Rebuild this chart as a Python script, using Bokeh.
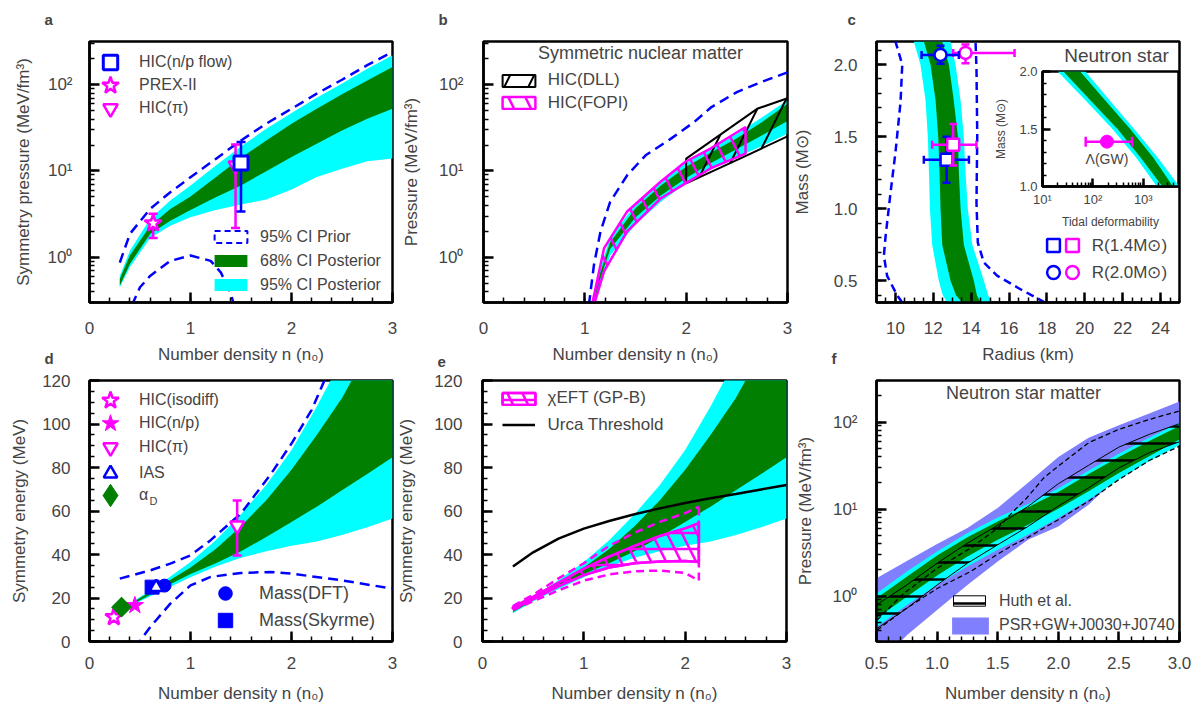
import numpy as np
from bokeh.plotting import figure
from bokeh.models import (GridBox, Range1d, Label, Legend, LegendItem,
                          CustomJSTickFormatter, SingleIntervalTicker, PrintfTickFormatter)
from bokeh.embed import file_html
from bokeh.resources import INLINE

FONT = "Liberation Sans"
CYAN = "#00ffff"
GREEN = "#007f00"
BLUE = "#0000ff"
MAG = "#ff00ff"
PSR = "#8080ff"
BLACK = "#000000"

# ------------------------------------------------------------------ data
# (a) symmetry pressure
a_n = [0.3, 0.4, 0.6, 0.8, 1.0, 1.25, 1.5, 1.75, 2.0, 2.25, 2.5, 2.75, 3.0]
a_post95_lo = [0.45, 0.77, 1.68, 2.33, 2.91, 3.54, 4.08, 4.67, 6.1, 8.5, 10.6, 13.0, 14.0]
a_post68_lo = [0.47, 0.84, 1.87, 2.66, 3.54, 4.97, 6.79, 9.96, 14.5, 20.7, 29.5, 40.3, 52.6]
a_post68_hi = [0.56, 1.05, 2.31, 3.64, 5.06, 8.48, 14.2, 22.6, 35.3, 52.6, 77.3, 112, 160]
a_post95_hi = [0.61, 1.19, 2.79, 4.55, 6.79, 11.6, 19.2, 30.9, 46.9, 70.6, 103, 153, 219]
a_prior_hi = [0.87, 1.87, 3.64, 5.68, 8.48, 13.8, 22.6, 35.3, 52.6, 78.6, 114, 168, 239]
a_prior_lo_n = [0.42, 0.5, 0.6, 0.8, 1.0, 1.2, 1.3, 1.4, 1.43]
a_prior_lo = [0.28, 0.45, 0.61, 0.91, 1.05, 0.91, 0.67, 0.38, 0.28]
a_npflow_n, a_npflow_p, a_npflow_lo, a_npflow_hi = [1.5], [12.4], [3.4], [21.6]
a_prex_n, a_prex_p, a_prex_lo, a_prex_hi = [0.63], [2.48], [1.68], [3.2]
a_pi_n, a_pi_p, a_pi_lo, a_pi_hi = [1.446], [11.6], [2.19], [20.3]

# (b) symmetric nuclear matter pressure
b_n = [1.07, 1.15, 1.25, 1.5, 1.75, 2.0, 2.25, 2.5, 2.75, 3.0]
b_post95_hi = [0.28, 0.75, 1.7, 4.1, 7.6, 12.5, 18.5, 27, 42, 66]
b_post68_hi = [0.26, 0.65, 1.5, 3.7, 6.8, 11.2, 16.5, 24, 37, 60]
b_post68_lo = [0.24, 0.55, 1.25, 2.9, 5.2, 8.3, 12.5, 18, 26, 38]
b_post95_lo = [0.22, 0.45, 1.05, 2.4, 4.4, 7.2, 10.5, 14.5, 19.5, 27]
b_prior_n = [1.04, 1.09, 1.155, 1.25, 1.42, 1.6, 1.85, 2.08, 2.25, 2.5, 2.75, 3.0]
b_prior_hi = [0.28, 0.82, 2.0, 4.4, 9.0, 15.2, 23.7, 37, 55, 82, 108, 139]
b_dll_n_hi, b_dll_hi = [2.0, 2.7, 3.0], [13.9, 52.5, 69.5]
b_dll_n_lo, b_dll_lo = [2.0, 2.6, 3.0], [7.2, 15.2, 25.2]
b_fopi_n_hi = [1.07, 1.19, 1.418, 1.747, 1.993, 2.24, 2.586]
b_fopi_hi = [0.28, 1.28, 3.4, 7.5, 12.8, 18.2, 32.3]
b_fopi_n_lo = [1.09, 1.19, 1.418, 1.747, 1.993, 2.24, 2.586]
b_fopi_lo = [0.28, 0.69, 2.0, 4.8, 7.2, 10.7, 15.9]

# (c) mass-radius
c_M = [0.35, 0.4, 0.5, 0.75, 1.0, 1.25, 1.5, 1.75, 2.0, 2.16]
c_post95_lo = [12.73, 12.5, 12.29, 11.94, 11.82, 11.77, 11.71, 11.59, 11.32, 10.97]
c_post68_lo = [13.53, 13.2, 12.91, 12.47, 12.38, 12.33, 12.26, 12.12, 11.85, 11.5]
c_post68_hi = [14.49, 14.3, 14.14, 13.61, 13.44, 13.35, 13.3, 13.08, 12.82, 12.47]
c_post95_hi = [15.11, 14.9, 14.67, 14.06, 13.82, 13.7, 13.61, 13.44, 13.17, 12.91]
c_prior_lo_M = [0.35, 0.40, 0.535, 0.674, 0.81, 1.11, 1.39, 1.74, 2.0, 2.16]
c_prior_lo_R = [10.36, 10.09, 9.56, 9.39, 9.48, 9.74, 10.0, 10.27, 10.36, 10.0]
c_prior_hi_M = [0.35, 0.40, 0.442, 0.535, 0.627, 0.766, 1.04, 1.507, 1.97, 2.16]
c_prior_hi_R = [17.9, 17.2, 16.6, 15.38, 14.67, 14.35, 14.28, 14.32, 14.28, 14.23]
c_r14_blue = dict(R=[12.70], M=[1.34], R_lo=[11.5], R_hi=[13.88], M_lo=[1.18], M_hi=[1.50])
c_r14_mag = dict(R=[13.05], M=[1.444], R_lo=[11.94], R_hi=[14.28], M_lo=[1.30], M_hi=[1.588])
c_r20_blue = dict(R=[12.38], M=[2.067], R_lo=[11.38], R_hi=[13.35], M_lo=[2.005], M_hi=[2.13])
c_r20_mag = dict(R=[13.7], M=[2.081], R_lo=[13.05], R_hi=[16.29], M_lo=[2.01], M_hi=[2.14])
# inset: mass vs tidal deformability
in_M = [1.0, 1.25, 1.5, 1.75, 2.0]
in_post95_lo = [1860, 724, 245, 71, 20]
in_post68_lo = [2400, 891, 309, 89, 26]
in_post68_hi = [3890, 1585, 550, 174, 56]
in_post95_hi = [5200, 1950, 660, 214, 71]
in_gw_L, in_gw_M, in_gw_lo, in_gw_hi = [190], [1.39], [72], [600]

# (d) symmetry energy
d_n = [0.3, 0.5, 0.7, 1.0, 1.25, 1.5, 1.75, 2.0, 2.25, 2.5, 2.75, 3.0]
d_post95_hi = [14.5, 20.5, 26.5, 36.5, 46.5, 58.5, 72, 88, 108, 130, 155, 182]
d_post68_hi = [14, 20, 25.5, 34, 42.5, 53, 65, 79, 95, 112, 133, 155]
d_post68_lo = [13.5, 19, 24, 31, 36, 41.5, 48, 55, 62, 69.5, 77, 84.7]
d_post95_lo = [13, 18.5, 23, 29.5, 34.5, 38.5, 41.5, 44, 46, 49, 52.5, 56.5]
d_prior_hi_n = [0.3, 0.6, 0.8, 1.0, 1.2, 1.5, 1.8, 2.0, 2.2, 2.4]
d_prior_hi = [28.9, 32.7, 35.8, 39.6, 46.6, 58.9, 77.3, 91, 106.5, 128]
d_prior_lo_n = [0.45, 0.6, 0.8, 1.0, 1.2, 1.5, 1.8, 2.0, 2.5, 3.0]
d_prior_lo = [-3, 6.6, 17.4, 25.8, 29.7, 31.5, 32, 31.2, 28.1, 24.3]
d_isodiff_n, d_isodiff_E = [0.241], [11.2]
d_np_n, d_np_E = [0.449], [16.6]
d_pi_n, d_pi_E, d_pi_lo, d_pi_hi = [1.462], [53.3], [39.5], [64.8]
d_ias_n, d_ias_E = [0.66], [25.0]
d_alpha_n, d_alpha_E = [0.317], [15.8]
d_dft_n, d_dft_E = [0.743], [25.7]
d_sky_n, d_sky_E = [0.62], [25.0]

# (e) chiral EFT and Urca threshold
e_eft_n = [0.3, 0.5, 0.75, 1.0, 1.25, 1.5, 1.75, 2.0, 2.135]
e_eft68_hi = [15.8, 20.5, 27, 33.5, 39, 44, 48.5, 52, 54.4]
e_eft68_lo = [15.0, 19.5, 25.5, 30.5, 34, 36, 36.8, 37, 36.5]
e_eft95_hi = [16.3, 21.5, 29, 36, 44, 50, 55, 59, 62]
e_eft95_lo = [14.5, 18.5, 23.5, 28, 30.8, 32.3, 32.6, 31.5, 28]
e_urca_n = [0.3, 0.5, 0.75, 1.0, 1.25, 1.5, 1.75, 2.0, 2.25, 2.5, 2.75, 3.0]
e_urca = [34.5, 41.0, 47.3, 51.9, 55.4, 58.5, 61.2, 63.7, 65.9, 67.8, 69.9, 72.0]

# (f) neutron star matter pressure
f_n = [0.5, 0.75, 1.0, 1.25, 1.5, 1.75, 2.0, 2.25, 2.5, 2.75, 3.0]
f_post95_hi = [1.07, 1.91, 3.25, 5.29, 8.0, 11.4, 17.2, 27.7, 43.1, 65.9, 98]
f_post68_hi = [0.94, 1.67, 2.92, 4.75, 7.2, 10.5, 15.7, 25.3, 39.5, 60.4, 89.9]
f_post68_lo = [0.55, 0.98, 1.72, 2.84, 4.43, 6.6, 10.1, 16.0, 26.0, 40.5, 63.1]
f_post95_lo = [0.44, 0.79, 1.34, 2.18, 3.4, 5.06, 7.87, 12.8, 21.8, 35.5, 54.3]
f_psr_hi = [1.6, 2.53, 3.95, 6.04, 10.3, 20, 39.5, 65.9, 91.6, 125, 172]
f_psr_lo = [0.15, 0.355, 0.69, 1.34, 2.49, 4.43, 6.31, 11.2, 24, 38, 55]
f_huth_hi = [0.79, 1.34, 2.38, 4.05, 6.5, 10.7, 19.5, 31.8, 51.5, 72.0, 95.8]
f_huth_lo = [0.42, 0.72, 1.34, 2.38, 3.88, 6.3, 10.8, 17.5, 29.7, 44.3, 59.3]
f_dash_n = [0.505, 0.725, 1.0, 1.276, 1.5, 1.63, 1.74, 1.88, 2.0, 2.25, 2.5, 2.75, 3.0]
f_dash_hi = [0.53, 1.07, 2.08, 3.55, 6.04, 9.4, 13.4, 22.8, 31.1, 57.8, 82.3, 107, 134]
f_dash_lo = [0.405, 0.69, 1.22, 1.91, 3.03, 3.88, 4.63, 6.04, 7.53, 12.3, 21.8, 36.1, 52.8]

LOG_CODE = """
const s = {"0": "\u2070", "1": "\u00b9", "2": "\u00b2", "3": "\u00b3", "4": "\u2074", "-": "\u207b"};
const e = Math.round(Math.log10(tick));
return "10" + String(e).split("").map(c => s[c]).join("");
"""

# every figure shares the same borders (the grid aligns them), frames are placed by margins
BL, BR, BT, BB = 89, 16, 48, 65


# ------------------------------------------------------------------ helpers
def make_fig(fx, fy, fw, fh, xr, yr, xlog=False, ylog=False,
             fs="17px", xstand=17, ystand=18, xlab_stand=10, ylab_stand=12,
             letter=None, letter_off=-45, letter_stand=27):
    p = figure(width=BL + fw + BR, height=BT + fh + BB,
               x_range=Range1d(*xr), y_range=Range1d(*yr),
               x_axis_type="log" if xlog else "linear",
               y_axis_type="log" if ylog else "linear",
               output_backend="svg", toolbar_location=None,
               title=None if letter is None else letter,
               min_border_left=BL, min_border_right=BR,
               min_border_top=BT, min_border_bottom=BB)
    p.margin = (fy - BT, 0, 0, fx - BL)
    if letter is not None:
        p.title.align = "left"
        p.title.offset = letter_off
        p.title.standoff = letter_stand
        p.title.text_font = FONT
        p.title.text_font_size = "15px"
        p.title.text_font_style = "bold"
    p.xgrid.visible = False
    p.ygrid.visible = False
    p.outline_line_color = BLACK
    p.outline_line_width = 2.5
    p.outline_line_alpha = 1.0
    p.border_fill_color = None
    p.background_fill_color = "white"
    for ax in list(p.xaxis) + list(p.yaxis):
        ax.axis_line_width = 2.5
        ax.major_tick_in = 10
        ax.major_tick_out = 0
        ax.minor_tick_in = 5
        ax.minor_tick_out = 0
        ax.major_tick_line_width = 2.5
        ax.minor_tick_line_width = 1.5
        ax.major_label_text_font = FONT
        ax.major_label_text_font_size = fs
        ax.axis_label_text_font = FONT
        ax.axis_label_text_font_size = fs
        ax.axis_label_text_font_style = "normal"
    p.xaxis.major_label_standoff = xstand
    p.yaxis.major_label_standoff = ystand
    p.xaxis.axis_label_standoff = xlab_stand
    p.yaxis.axis_label_standoff = ylab_stand
    if xlog:
        p.xaxis.formatter = CustomJSTickFormatter(code=LOG_CODE)
    if ylog:
        p.yaxis.formatter = CustomJSTickFormatter(code=LOG_CODE)
    return p


def note(p, t, x, y, fs="18px", align="center"):
    p.add_layout(Label(x=x, y=y, x_units="screen", y_units="screen", text=t,
                       text_font=FONT, text_font_size=fs,
                       text_align=align, text_baseline="middle"))


def leg(p, rends, label, cx, cy, gw, gh, text_x, fs="16px"):
    standoff = int(round(text_x - (cx + gw / 2)))
    lg = Legend(items=[LegendItem(label=label, renderers=rends)],
                location=(cx - gw / 2, cy - gh / 2),
                glyph_width=int(gw), glyph_height=int(gh), label_height=int(gh),
                label_width=10, padding=0, margin=0, spacing=0,
                border_line_color=None, background_fill_alpha=0,
                label_standoff=standoff, label_text_font=FONT,
                label_text_font_size=fs)
    p.add_layout(lg)


def vbar_err(p, xs, lo, hi, color, cap=9, lw=2.5):
    p.segment(x0=xs, y0=lo, x1=xs, y1=hi, line_color=color, line_width=lw)
    p.scatter(x=xs + xs, y=lo + hi, marker="dash", size=cap, line_color=color, line_width=lw)


def hbar_err(p, ys, lo, hi, color, cap=9, lw=2.5):
    p.segment(x0=lo, y0=ys, x1=hi, y1=ys, line_color=color, line_width=lw)
    p.scatter(x=lo + hi, y=ys + ys, marker="dash", angle=np.pi / 2, size=cap,
              line_color=color, line_width=lw)


DASH = "10 6"
ND_LABEL = "Number density n (n\u2080)"
ROW1 = dict(xstand=19, xlab_stand=8)
ROW2 = dict(xstand=15, xlab_stand=12)

# ------------------------------------------------------------------ panel a
pa = make_fig(89, 41, 303, 261, (0, 3), (0.3, 316), ylog=True,
              ystand=17, ylab_stand=12, letter="a", **ROW1)
pa.xaxis.ticker = SingleIntervalTicker(interval=1, num_minor_ticks=5)
pa.xaxis.axis_label = ND_LABEL
pa.yaxis.axis_label = "Symmetry pressure (MeV/fm\u00b3)"
ra95 = pa.varea(x=a_n, y1=a_post95_lo, y2=a_post95_hi, fill_color=CYAN)
ra68 = pa.varea(x=a_n, y1=a_post68_lo, y2=a_post68_hi, fill_color=GREEN)
pa.line(x=a_n, y=a_prior_hi, line_color=BLUE, line_width=2.5, line_dash=DASH)
pa.line(x=a_prior_lo_n, y=a_prior_lo, line_color=BLUE, line_width=2.5, line_dash=DASH)
# legend proxy (no visible mark): dashed outline box for the prior
ra_prior = pa.patch(x=np.array([np.nan]), y=np.array([np.nan]), fill_color=None,
                    line_color=BLUE, line_width=2, line_dash="6 4")
vbar_err(pa, a_prex_n, a_prex_lo, a_prex_hi, MAG)
ra_prex = pa.scatter(x=a_prex_n, y=a_prex_p, marker="star", size=18, fill_color="white",
                     line_color=MAG, line_width=2.5)
vbar_err(pa, a_pi_n, a_pi_lo, a_pi_hi, MAG)
ra_pi = pa.scatter(x=a_pi_n, y=a_pi_p, marker="inverted_triangle", size=14, fill_color="white",
                   line_color=MAG, line_width=2.5)
vbar_err(pa, a_npflow_n, a_npflow_lo, a_npflow_hi, BLUE)
ra_np = pa.scatter(x=a_npflow_n, y=a_npflow_p, marker="square", size=14, fill_color="white",
                   line_color=BLUE, line_width=3)
leg(pa, [ra_np], "HIC(n/p flow)", 21, 240, 36, 36, 50)
leg(pa, [ra_prex], "PREX-II", 21, 217, 44, 44, 50)
leg(pa, [ra_pi], "HIC(\u03c0)", 21, 194, 36, 36, 50)
leg(pa, [ra_prior], "95% CI Prior", 141.5, 64, 41, 15, 171)
leg(pa, [ra68], "68% CI Posterior", 141.5, 40, 41, 15, 171)
leg(pa, [ra95], "95% CI Posterior", 141.5, 16, 41, 15, 171)

# ------------------------------------------------------------------ panel b
pb = make_fig(483, 41, 304, 261, (0, 3), (0.3, 316), ylog=True,
              ystand=20, ylab_stand=15, letter="b", **ROW1)
pb.xaxis.ticker = SingleIntervalTicker(interval=1, num_minor_ticks=5)
pb.xaxis.axis_label = ND_LABEL
pb.yaxis.axis_label = "Pressure (MeV/fm\u00b3)"
pb.varea(x=b_n, y1=b_post95_lo, y2=b_post95_hi, fill_color=CYAN)
pb.varea(x=b_n, y1=b_post68_lo, y2=b_post68_hi, fill_color=GREEN)
pb.line(x=b_prior_n, y=b_prior_hi, line_color=BLUE, line_width=2.5, line_dash=DASH)
rb_dll = pb.patch(x=b_dll_n_hi + b_dll_n_lo[::-1], y=b_dll_hi + b_dll_lo[::-1],
                  fill_color=None, line_color=BLACK, line_width=2,
                  hatch_pattern="/", hatch_color=BLACK, hatch_weight=2, hatch_scale=48)
rb_fopi = pb.patch(x=b_fopi_n_hi + b_fopi_n_lo[::-1], y=b_fopi_hi + b_fopi_lo[::-1],
                   fill_color=None, line_color=MAG, line_width=2.5,
                   hatch_pattern="\\", hatch_color=MAG, hatch_weight=2.5, hatch_scale=34)
leg(pb, [rb_dll], "HIC(DLL)", 35.3, 219.5, 41, 15, 64.7, fs="17px")
leg(pb, [rb_fopi], "HIC(FOPI)", 35.3, 196.7, 41, 15, 64.7, fs="17px")
note(pb, "Symmetric nuclear matter", 157, 250, fs="18px")

# ------------------------------------------------------------------ panel c
pc = make_fig(876, 41, 303, 261, (9, 25), (0.35, 2.16),
              ystand=19, ylab_stand=19, letter="c", letter_off=-29, **ROW1)
pc.xaxis.ticker = SingleIntervalTicker(interval=2, num_minor_ticks=4)
pc.yaxis.ticker = SingleIntervalTicker(interval=0.5, num_minor_ticks=5)
pc.yaxis.formatter = PrintfTickFormatter(format="%.1f")
pc.xaxis.axis_label = "Radius (km)"
pc.yaxis.axis_label = "Mass (M\u2299)"
pc.harea(y=c_M, x1=c_post95_lo, x2=c_post95_hi, fill_color=CYAN)
pc.harea(y=c_M, x1=c_post68_lo, x2=c_post68_hi, fill_color=GREEN)
pc.line(x=c_prior_lo_R, y=c_prior_lo_M, line_color=BLUE, line_width=2.5, line_dash="8 5")
pc.line(x=c_prior_hi_R, y=c_prior_hi_M, line_color=BLUE, line_width=2.5, line_dash="8 5")
marks = {}
for key, d, col, mk in [("r20m", c_r20_mag, MAG, "circle"), ("r20b", c_r20_blue, BLUE, "circle"),
                        ("r14b", c_r14_blue, BLUE, "square"), ("r14m", c_r14_mag, MAG, "square")]:
    vbar_err(pc, d["R"], d["M_lo"], d["M_hi"], col, cap=8)
    hbar_err(pc, d["M"], d["R_lo"], d["R_hi"], col, cap=8)
    marks[key] = pc.scatter(x=d["R"], y=d["M"], marker=mk, size=12, fill_color="white",
                            line_color=col, line_width=2.5)
leg(pc, [marks["r14b"]], " ", 177.3, 56.7, 32, 32, 198)
leg(pc, [marks["r14m"]], "R(1.4M\u2299)", 195.7, 56.7, 32, 32, 215.7, fs="17px")
leg(pc, [marks["r20b"]], " ", 177.3, 30, 32, 32, 198)
leg(pc, [marks["r20m"]], "R(2.0M\u2299)", 195.7, 30, 32, 32, 215.7, fs="17px")
note(pc, "Neutron star", 240, 247, fs="19px")

# inset
pin = make_fig(1042, 71, 136, 115, (10, 5000), (1.0, 2.0), xlog=True,
               fs="13px", xstand=5, ystand=5, xlab_stand=5, ylab_stand=8)
for ax in list(pin.xaxis) + list(pin.yaxis):
    ax.major_tick_in = 8
    ax.minor_tick_in = 4
    ax.axis_label_text_font_size = "12px"
pin.yaxis.ticker = SingleIntervalTicker(interval=0.5, num_minor_ticks=5)
pin.yaxis.formatter = PrintfTickFormatter(format="%.1f")
pin.xaxis.axis_label = "Tidal deformability"
pin.yaxis.axis_label = "Mass (M\u2299)"
pin.harea(y=in_M, x1=in_post95_lo, x2=in_post95_hi, fill_color=CYAN)
pin.harea(y=in_M, x1=in_post68_lo, x2=in_post68_hi, fill_color=GREEN)
hbar_err(pin, in_gw_M, in_gw_lo, in_gw_hi, MAG, cap=10)
pin.scatter(x=in_gw_L, y=in_gw_M, marker="circle", size=13, fill_color=MAG, line_color=MAG)
pin.add_layout(Label(x=in_gw_L[0], y=in_gw_M[0], y_offset=-17, text="\u039b(GW)",
                     text_font=FONT, text_font_size="14px", text_align="center",
                     text_baseline="middle"))

# ------------------------------------------------------------------ panel d
pd_ = make_fig(89, 380, 303, 261, (0, 3), (0, 120),
               ystand=19, ylab_stand=10, letter="d", **ROW2)
pd_.xaxis.ticker = SingleIntervalTicker(interval=1, num_minor_ticks=5)
pd_.yaxis.ticker = SingleIntervalTicker(interval=20, num_minor_ticks=4)
pd_.xaxis.axis_label = ND_LABEL
pd_.yaxis.axis_label = "Symmetry energy (MeV)"
pd_.varea(x=d_n, y1=d_post95_lo, y2=d_post95_hi, fill_color=CYAN)
pd_.varea(x=d_n, y1=d_post68_lo, y2=d_post68_hi, fill_color=GREEN)
pd_.line(x=d_prior_hi_n, y=d_prior_hi, line_color=BLUE, line_width=2.5, line_dash=DASH)
pd_.line(x=d_prior_lo_n, y=d_prior_lo, line_color=BLUE, line_width=2.5, line_dash=DASH)
rd_sky = pd_.scatter(x=d_sky_n, y=d_sky_E, marker="square", size=14, fill_color=BLUE, line_color=BLUE)
rd_dft = pd_.scatter(x=d_dft_n, y=d_dft_E, marker="circle", size=13, fill_color=BLUE, line_color=BLUE)
rd_ias = pd_.scatter(x=d_ias_n, y=d_ias_E, marker="triangle", size=13, fill_color="white",
                     line_color=BLUE, line_width=2.5)
rd_iso = pd_.scatter(x=d_isodiff_n, y=d_isodiff_E, marker="star", size=18, fill_color="white",
                     line_color=MAG, line_width=2.5)
rd_np = pd_.scatter(x=d_np_n, y=d_np_E, marker="star", size=18, fill_color=MAG, line_color=MAG)
rd_al_leg = pd_.scatter(x=d_alpha_n, y=d_alpha_E, marker="diamond", size=19,
                        fill_color=GREEN, line_color=GREEN)
pd_.scatter(x=d_alpha_n, y=d_alpha_E, marker="square", angle=np.pi / 4, size=14,
            fill_color=GREEN, line_color=GREEN)
vbar_err(pd_, d_pi_n, d_pi_lo, d_pi_hi, MAG)
rd_pi = pd_.scatter(x=d_pi_n, y=d_pi_E, marker="inverted_triangle", size=14, fill_color="white",
                    line_color=MAG, line_width=2.5)
leg(pd_, [rd_iso], "HIC(isodiff)", 21, 241, 44, 44, 50)
leg(pd_, [rd_np], "HIC(n/p)", 21, 217.7, 44, 44, 50)
leg(pd_, [rd_pi], "HIC(\u03c0)", 21, 194.3, 36, 36, 50)
leg(pd_, [rd_ias], "IAS", 21, 167.7, 34, 34, 50)
leg(pd_, [rd_al_leg], "\u03b1", 21, 146, 56, 56, 50)
pd_.add_layout(Label(x=60, y=141, x_units="screen", y_units="screen", text="D",
                     text_font=FONT, text_font_size="11px", text_baseline="middle"))
leg(pd_, [rd_dft], "Mass(DFT)", 136, 47.7, 34, 34, 170, fs="18px")
leg(pd_, [rd_sky], "Mass(Skyrme)", 136, 21, 36, 36, 170, fs="18px")

# ------------------------------------------------------------------ panel e
pe = make_fig(482, 380, 304, 261, (0, 3), (0, 120),
              ystand=20, ylab_stand=15, letter="e", **ROW2)
pe.xaxis.ticker = SingleIntervalTicker(interval=1, num_minor_ticks=5)
pe.yaxis.ticker = SingleIntervalTicker(interval=20, num_minor_ticks=4)
pe.xaxis.axis_label = ND_LABEL
pe.yaxis.axis_label = "Symmetry energy (MeV)"
pe.varea(x=d_n, y1=d_post95_lo, y2=d_post95_hi, fill_color=CYAN)
pe.varea(x=d_n, y1=d_post68_lo, y2=d_post68_hi, fill_color=GREEN)
re_urca = pe.line(x=e_urca_n, y=e_urca, line_color=BLACK, line_width=2.5)
re_h = pe.patch(x=e_eft_n + e_eft_n[::-1], y=e_eft68_hi + e_eft68_lo[::-1],
                fill_color=None, line_color=MAG, line_width=2.5,
                hatch_pattern="-", hatch_color=MAG, hatch_weight=2.5, hatch_scale=16)
re_d = pe.patch(x=e_eft_n + e_eft_n[::-1], y=e_eft68_hi + e_eft68_lo[::-1],
                fill_color=None, line_color=MAG, line_width=2.5,
                hatch_pattern="\\", hatch_color=MAG, hatch_weight=2.5, hatch_scale=30)
pe.line(x=e_eft_n, y=e_eft95_hi, line_color=MAG, line_width=2.5, line_dash="8 5")
pe.line(x=e_eft_n, y=e_eft95_lo, line_color=MAG, line_width=2.5, line_dash="8 5")
pe.segment(x0=e_eft_n[-1:], y0=e_eft95_lo[-1:], x1=e_eft_n[-1:], y1=e_eft95_hi[-1:],
           line_color=MAG, line_width=2.5, line_dash="8 5")
leg(pe, [re_h, re_d], "\u03c7EFT (GP-B)", 36, 240.2, 41, 15, 65.7, fs="17px")
leg(pe, [re_urca], "Urca Threshold", 36, 213.7, 33, 15, 65.7, fs="17px")

# ------------------------------------------------------------------ panel f
pf = make_fig(876, 380, 303, 261, (0.5, 3.0), (0.3, 300), ylog=True,
              ystand=19, ylab_stand=15, letter="f", **ROW2)
pf.xaxis.ticker = SingleIntervalTicker(interval=0.5, num_minor_ticks=5)
pf.xaxis.formatter = PrintfTickFormatter(format="%.1f")
pf.xaxis.axis_label = ND_LABEL
pf.yaxis.axis_label = "Pressure (MeV/fm\u00b3)"
rf_psr = pf.varea(x=f_n, y1=f_psr_lo, y2=f_psr_hi, fill_color=PSR)
pf.varea(x=f_n, y1=f_post95_lo, y2=f_post95_hi, fill_color=CYAN)
pf.varea(x=f_n, y1=f_post68_lo, y2=f_post68_hi, fill_color=GREEN)
rf_huth = pf.patch(x=f_n + f_n[::-1], y=f_huth_hi + f_huth_lo[::-1],
                   fill_color=None, line_color=BLACK, line_width=1,
                   hatch_pattern="-", hatch_color=BLACK, hatch_weight=2.5, hatch_scale=17)
pf.line(x=f_dash_n, y=f_dash_hi, line_color=BLACK, line_width=1.3, line_dash="5 3")
pf.line(x=f_dash_n, y=f_dash_lo, line_color=BLACK, line_width=1.3, line_dash="5 3")
leg(pf, [rf_huth], "Huth et al.", 93, 37.7, 40, 13, 123.3, fs="16px")
leg(pf, [rf_psr], "PSR+GW+J0030+J0740", 94, 16, 46, 21, 123.3, fs="16px")
note(pf, "Neutron star matter", 147, 249, fs="18px")

root = GridBox(children=[(pa, 0, 0), (pb, 0, 0), (pc, 0, 0), (pin, 0, 0),
                         (pd_, 0, 0), (pe, 0, 0), (pf, 0, 0)])

open("out.html", "w", encoding="utf-8").write(file_html(root, INLINE, title="EOS constraints"))
